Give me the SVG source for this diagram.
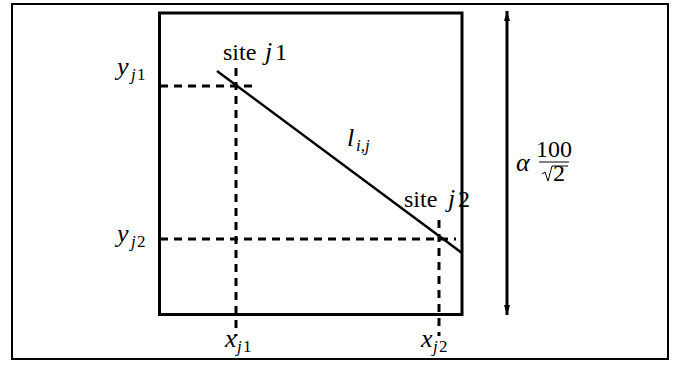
<svg xmlns="http://www.w3.org/2000/svg" width="684" height="367" viewBox="0 0 684 367">
<defs>
<marker id="ah" viewBox="0 0 10 6" refX="10" refY="3" markerWidth="10" markerHeight="6" markerUnits="userSpaceOnUse" orient="auto">
<path d="M0,0 L10,3 L0,6 Z" fill="#000"/>
</marker>
</defs>
<style>
.t{font-family:"Liberation Serif","Times New Roman",serif;font-size:24px;fill:#000}
.i{font-style:italic}
.m{font-size:26px}
.s{font-size:17px}
.dash{stroke:#000;stroke-width:3;stroke-dasharray:8 6;fill:none}
.solid{stroke:#000;fill:none}
</style>
<rect x="12" y="4" width="656" height="355" fill="#fff" stroke="#000" stroke-width="2"/>
<g id="square"><rect x="159.5" y="13" width="302.5" height="301.5" class="solid" stroke-width="3"/></g>
<g id="connectors">
<line x1="217" y1="71" x2="462" y2="253" class="solid" stroke-width="2.5"/>
<line x1="160" y1="86" x2="256" y2="86" class="dash"/>
<line x1="236" y1="68" x2="236" y2="336" class="dash"/>
<line x1="160" y1="239" x2="456" y2="239" class="dash"/>
<line x1="439" y1="220" x2="439" y2="336" class="dash"/>
<line x1="507" y1="163" x2="507" y2="11" class="solid" stroke-width="3" marker-end="url(#ah)"/>
<line x1="507" y1="163" x2="507" y2="315" class="solid" stroke-width="3" marker-end="url(#ah)"/>
</g>
<g id="labels">
<text class="t" x="223" y="60">site<tspan class="i m" x="265">j</tspan><tspan x="275">1</tspan></text>
<text class="t" x="404" y="207">site<tspan class="i m" x="448">j</tspan><tspan x="458">2</tspan></text>
<text class="t i m" x="117" y="75">y<tspan class="s" dy="5" x="131">j</tspan><tspan class="s" font-style="normal" x="137">1</tspan></text>
<text class="t i m" x="117" y="242">y<tspan class="s" dy="5" x="131">j</tspan><tspan class="s" font-style="normal" x="137">2</tspan></text>
<text class="t i m" x="225" y="347">x<tspan class="s" dy="5" x="237">j</tspan><tspan class="s" font-style="normal" x="243">1</tspan></text>
<text class="t i m" x="421" y="347">x<tspan class="s" dy="5" x="433">j</tspan><tspan class="s" font-style="normal" x="439">2</tspan></text>
<text class="t i m" x="347" y="146">l<tspan class="s" dy="5" x="356">i,j</tspan></text>
<text class="t i m" x="516" y="171">α</text>
<text class="t" x="554" y="157" font-size="16" text-anchor="middle">100</text>
<line x1="539" y1="162" x2="569" y2="162" stroke="#000" stroke-width="1"/>
<path d="M542,174 L545,172 L548,181 L552,166 L568,166" stroke="#000" stroke-width="1" fill="none"/>
<text class="t" x="553" y="181" font-size="16">2</text>
</g>
</svg>
